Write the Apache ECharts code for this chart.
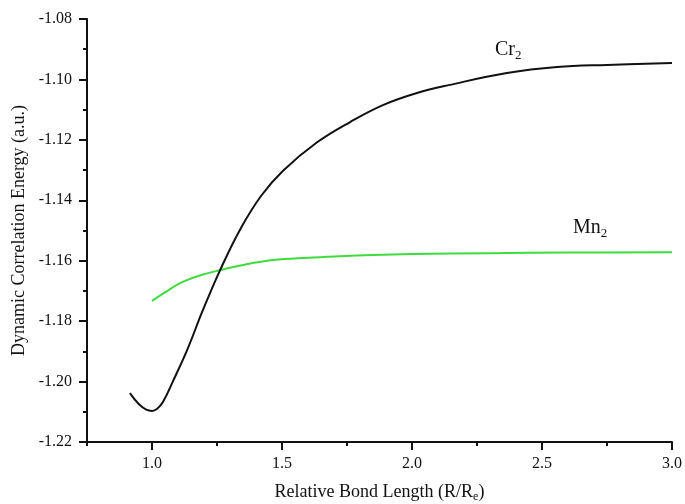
<!DOCTYPE html>
<html>
<head>
<meta charset="utf-8">
<script src="https://cdn.jsdelivr.net/npm/echarts@6/dist/echarts.min.js"></script>
<style>html,body{margin:0;padding:0;background:#fff}#c{width:685px;height:504px}</style>
</head>
<body>
<div id="c"></div>
<script>
// Data
const crR = [0.915, 0.95, 0.98, 1.0, 1.02, 1.042, 1.08, 1.135, 1.196, 1.262, 1.338, 1.42, 1.504, 1.635, 1.762, 1.888, 2.019, 2.146, 2.365, 2.558, 2.75, 3.0];
const crE = [-1.2038, -1.2075, -1.2094, -1.2097, -1.2090, -1.2068, -1.2000, -1.1896, -1.1763, -1.1631, -1.1498, -1.1385, -1.1302, -1.1208, -1.1141, -1.1085, -1.1045, -1.1018, -1.0979, -1.0959, -1.0952, -1.0946];
const mnR = [1.0, 1.05, 1.108, 1.18, 1.262, 1.35, 1.465, 1.6, 1.723, 1.85, 2.0, 2.3, 2.6, 3.0];
const mnE = [-1.1733, -1.1705, -1.1674, -1.1650, -1.1631, -1.1614, -1.1598, -1.1590, -1.1585, -1.1581, -1.1578, -1.1575, -1.1573, -1.1572];
const xMajorTicks = [1.0, 1.5, 2.0, 2.5, 3.0];
const xMinorTicks = [0.75, 1.25, 1.75, 2.25, 2.75];
const crLabelPos = [2.37, -1.0903];
const mnLabelPos = [2.685, -1.1492];

const FONT = "'Liberation Serif', 'Times New Roman', serif";
const chart = echarts.init(document.getElementById('c'), null, {renderer: 'canvas'});
const mk = (xs, ys) => xs.map((x, i) => [x, ys[i]]);
const rich = {
  a: {fontFamily: FONT, fontSize: 20, color: '#111'},
  s: {fontFamily: FONT, fontSize: 13, color: '#111', padding: [11, 0, 0, 0]}
};
const titleRich = {
  a: {fontFamily: FONT, fontSize: 18, color: '#111'},
  s: {fontFamily: FONT, fontSize: 12, color: '#111', padding: [9, 0, 0, 0]}
};
const labelSeries = (name, pos, text) => ({
  name: name, type: 'scatter', data: [pos], symbol: 'circle', symbolSize: 1, silent: true,
  itemStyle: {color: 'rgba(0,0,0,0)', opacity: 1}, z: 5,
  label: {show: true, position: 'inside', formatter: text, rich: rich, opacity: 1}
});
chart.setOption({
  animation: false,
  backgroundColor: '#fff',
  grid: {left: 87, right: 13, top: 19, bottom: 62, containLabel: false, outerBoundsMode: 'none'},
  xAxis: [{
    type: 'value', min: 0.75, max: 3.0,
    name: '{a|Relative Bond Length (R/R}{s|e}{a|)}',
    nameLocation: 'middle', nameGap: 40,
    nameTextStyle: {rich: titleRich},
    axisLine: {lineStyle: {color: '#111', width: 2}},
    axisTick: {show: true, customValues: xMajorTicks, length: 8, lineStyle: {color: '#111', width: 2}},
    axisLabel: {customValues: xMajorTicks, formatter: v => v.toFixed(1), fontFamily: FONT, fontSize: 16, color: '#111', margin: 14},
    splitLine: {show: false}
  }, {
    type: 'value', min: 0.75, max: 3.0, position: 'bottom',
    axisLine: {show: false},
    axisTick: {show: true, customValues: xMinorTicks, length: 4, lineStyle: {color: '#111', width: 2}},
    axisLabel: {show: false},
    splitLine: {show: false}
  }],
  yAxis: {
    type: 'value', min: -1.22, max: -1.08, interval: 0.02,
    name: 'Dynamic Correlation Energy (a.u.)',
    nameLocation: 'middle', nameGap: 56,
    nameTextStyle: {fontFamily: FONT, fontSize: 18, color: '#111'},
    axisLine: {show: true, lineStyle: {color: '#111', width: 2}},
    axisTick: {show: true, length: 8, lineStyle: {color: '#111', width: 2}},
    minorTick: {show: true, splitNumber: 2, length: 4, lineStyle: {color: '#111', width: 2}},
    axisLabel: {formatter: v => v.toFixed(2), fontFamily: FONT, fontSize: 16, color: '#111', margin: 15},
    splitLine: {show: false}
  },
  series: [{
    name: 'Cr2', type: 'line', data: mk(crR, crE), smooth: 0.4, showSymbol: false,
    lineStyle: {color: '#111', width: 2}, z: 3
  }, {
    name: 'Mn2', type: 'line', data: mk(mnR, mnE), smooth: 0.4, showSymbol: false,
    lineStyle: {color: '#3edc3e', width: 2}, z: 2
  },
  labelSeries('Cr2 label', crLabelPos, '{a|Cr}{s|2}'),
  labelSeries('Mn2 label', mnLabelPos, '{a|Mn}{s|2}')]
});
</script>
</body>
</html>
